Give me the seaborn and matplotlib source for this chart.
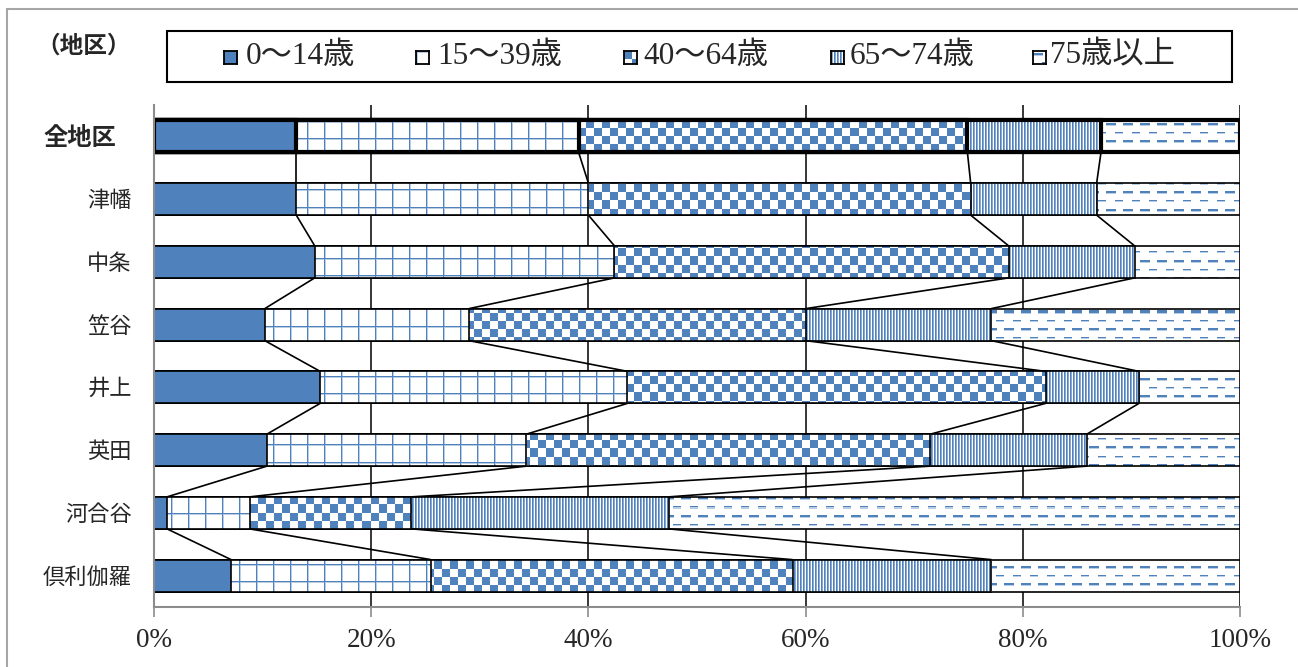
import numpy as np
import pandas as pd
import matplotlib
matplotlib.use('Agg')
import matplotlib.pyplot as plt
import seaborn as sns
from matplotlib.colors import to_rgb
from matplotlib.lines import Line2D
from matplotlib.patches import Rectangle
from matplotlib.ticker import FuncFormatter
from matplotlib.transforms import ScaledTranslation

# data (percent of population by age group)
districts = ['全地区', '津幡', '中条', '笠谷', '井上', '英田', '河合谷', '倶利伽羅']
age_groups = ['0～14歳', '15～39歳', '40～64歳', '65～74歳', '75歳以上']
age_0_14 = [13.1, 13.1, 14.8, 10.2, 15.3, 10.4, 1.2, 7.1]
age_15_39 = [26.0, 26.9, 27.6, 18.8, 28.3, 23.9, 7.6, 18.4]
age_40_64 = [35.8, 35.2, 36.3, 31.0, 38.5, 37.2, 14.9, 33.3]
age_65_74 = [12.3, 11.6, 11.6, 17.1, 8.6, 14.4, 23.7, 18.3]
age_75_over = [12.8, 13.2, 9.7, 22.9, 9.3, 14.1, 52.6, 22.9]
x_ticks = [0, 20, 40, 60, 80, 100]
area_label = '（地区）'

BLUE = '#4F81BD'
PALE = '#B9CDE5'
MID = '#89A9D3'
textures = ['solid', 'grid', 'checker', 'vstripe', 'dash']

# share table -> cumulative right edges
df = pd.DataFrame(dict(zip(age_groups, [age_0_14, age_15_39, age_40_64,
                                        age_65_74, age_75_over])), index=districts)
df = df.div(df.sum(axis=1), axis=0) * 100
cum = df.cumsum(axis=1)
long = (cum.reset_index(names='地区')
           .melt(id_vars='地区', var_name='年齢', value_name='累積'))

sns.set_style('white')
plt.rcParams['font.family'] = ['Liberation Serif', 'Noto Sans CJK JP', 'DejaVu Sans']


def texture(kind, h, w):
    """pixel pattern like the Excel fill patterns"""
    yy, xx = np.mgrid[0:h, 0:w]
    img = np.ones((h, w, 3))
    blue, pale, mid = (np.array(to_rgb(c)) for c in (BLUE, PALE, MID))
    if kind == 'solid':
        img[:] = blue
    elif kind == 'grid':
        img[(xx % 17 == 1) | (yy % 17 == 1)] = pale
        img[(xx % 17 == 0) | (yy % 17 == 0)] = blue
    elif kind == 'checker':
        img[((xx // 8) + (yy // 8)) % 2 == 0] = blue
    elif kind == 'vstripe':
        img[xx % 3 == 1] = mid
        img[xx % 3 == 0] = blue
    elif kind == 'dash':
        img[(yy % 17 == 4) & (xx % 17 < 10)] = pale
        img[((yy % 17 == 2) | (yy % 17 == 3)) & (xx % 17 < 10)] = blue
        img[(yy % 17 == 12) & ((xx + 8) % 17 < 8)] = pale
        img[(yy % 17 == 11) & ((xx + 8) % 17 < 8)] = blue
    return img


W, H = 1298, 667
AX_L, AX_R, AX_T, AX_B = 154, 1240, 105, 607
fig = plt.figure(figsize=(W / 100, H / 100), dpi=100)
ax = fig.add_axes([AX_L / W, 1 - AX_B / H, (AX_R - AX_L) / W, (AX_B - AX_T) / H])

n = len(districts)
bar_h = 0.51
ylim = (n - 0.5, -0.5)

# stacked bars: draw cumulative bars from the longest to the shortest
for m, age in enumerate(reversed(age_groups)):
    kind = textures[age_groups.index(age)]
    before = len(ax.patches)
    sns.barplot(data=long[long['年齢'] == age], x='累積', y='地区', order=districts,
                orient='h', width=bar_h, color='white', saturation=1,
                edgecolor='black', linewidth=1.2, errorbar=None, ax=ax)
    ax.set_ylim(*ylim)
    ax.set_xlim(0, 100)
    tex = texture(kind, AX_B - AX_T, AX_R - AX_L)
    for p in ax.patches[before:]:
        row = int(round(p.get_y() + p.get_height() / 2))
        p.set_linewidth(3.0 if row == 0 else 1.2)
        p.set_zorder(3 + m + 0.5)
        if kind == 'solid':
            p.set_facecolor(BLUE)
        else:
            p.set_facecolor('none')
            im = ax.imshow(tex, extent=(0, 100, ylim[0], ylim[1]), aspect='auto',
                           interpolation='nearest', origin='upper', zorder=3 + m)
            im.set_clip_path(p)
ax.set_ylim(*ylim)
ax.set_xlim(0, 100)

# series lines between neighbouring bars
for i in range(n - 1):
    for j in range(len(age_groups) - 1):
        ax.plot([cum.iloc[i, j], cum.iloc[i + 1, j]],
                [i + bar_h / 2, i + 1 - bar_h / 2],
                color='black', lw=1.2, zorder=20, solid_capstyle='butt')

# axes styling
ax.set_xticks(x_ticks)
ax.xaxis.set_major_formatter(FuncFormatter(lambda v, p: f'{v:.0f}%'))
ax.set_xlabel('')
ax.set_ylabel('')
ax.grid(axis='x', color='black', lw=1.1)
ax.grid(axis='y', visible=False)
ax.set_axisbelow(True)
for s in ['top', 'right']:
    ax.spines[s].set_visible(False)
for s in ['left', 'bottom']:
    ax.spines[s].set_color('#8C8C8C')
    ax.spines[s].set_linewidth(1.5)
    ax.spines[s].set_zorder(30)
ax.tick_params(axis='x', direction='out', length=7, width=1.2, color='#8C8C8C',
               labelsize=19.5, pad=8, bottom=True)
ax.tick_params(axis='y', length=0, labelsize=16, pad=16)
for lab in ax.get_yticklabels():
    if lab.get_text() == districts[0]:
        lab.set_fontweight('bold')
        lab.set_fontsize(17.5)
        lab.set_transform(lab.get_transform()
                          + ScaledTranslation(-0.16, 0, fig.dpi_scale_trans))

# legend box with swatches
fig.add_artist(Rectangle((167 / W, 1 - 82 / H), (1232 - 167) / W, 51 / H,
                         transform=fig.transFigure, fill=False,
                         ec='black', lw=1.5))
swatch_x = [224, 416, 624, 831, 1033]
text_x = [246, 437, 643, 850, 1050]
leg_y = 57
for age, kind, sx, tx in zip(age_groups, textures, swatch_x, text_x):
    sax = fig.add_axes([sx / W, 1 - (leg_y + 7) / H, 13 / W, 13 / H])
    sax.imshow(texture(kind, 13, 13), interpolation='nearest', aspect='auto')
    sax.set_xticks([])
    sax.set_yticks([])
    for s in sax.spines.values():
        s.set_color('black')
        s.set_linewidth(1.3)
    fig.text(tx / W, 1 - (leg_y - 1) / H, age, ha='left', va='center',
             fontsize=22.5)

fig.text(84 / W, 1 - 46 / H, area_label, ha='center', va='center',
         fontsize=17, fontweight='bold')

# outer chart border (cut off at right and bottom)
border = '#A6A6A6'
fig.add_artist(Line2D([7 / W, 7 / W], [0, 1 - 9 / H], transform=fig.transFigure,
                      color=border, lw=1.5))
fig.add_artist(Line2D([7 / W, 1], [1 - 9 / H, 1 - 9 / H], transform=fig.transFigure,
                      color=border, lw=1.5))

fig.savefig('out.png', dpi=100)
plt.close(fig)
